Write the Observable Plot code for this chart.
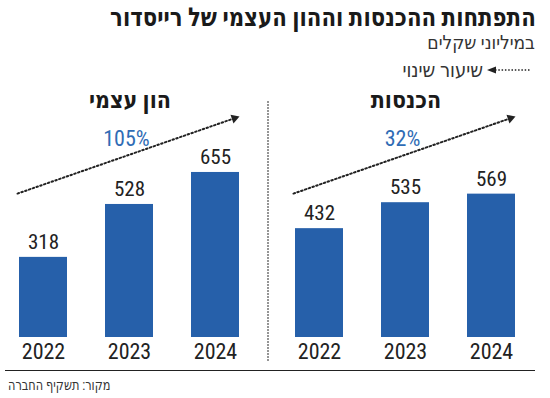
<!DOCTYPE html>
<html lang="he">
<head>
<meta charset="utf-8">
<script src="https://cdn.jsdelivr.net/npm/d3@7"></script>
<script src="https://cdn.jsdelivr.net/npm/@observablehq/plot@0.6"></script>
<style>
  html, body { margin: 0; padding: 0; background: #fff; }
  #wrap { position: relative; width: 550px; height: 398px; overflow: hidden;
    font-family: "Roboto Condensed", "Liberation Sans Narrow", "DejaVu Sans Condensed", "Arial Narrow", sans-serif; color: #222; }
  .abs { position: absolute; white-space: nowrap; }
  #title { right: 14px; top: 2px; font-size: 26px; font-weight: bold; direction: rtl; color: #1a1a1a; transform: scaleX(0.91); transform-origin: right center; }
  #subtitle { right: 15px; top: 31px; font-size: 19px; direction: rtl; color: #333; }
  #legend { right: 20px; top: 56px; height: 28px; font-size: 20px; direction: rtl; color: #333; display: flex; align-items: center; gap: 3px; }
  #chart { left: 0; top: 80px; }
  #rule { left: 5px; top: 370px; width: 530px; height: 0; border-top: 1.5px solid #222; }
  #source { left: 8px; top: 376px; font-size: 15px; direction: rtl; color: #333; transform: scaleX(0.84); transform-origin: left center; }
</style>
</head>
<body>
<div id="wrap">
  <div id="title" class="abs">התפתחות ההכנסות וההון העצמי של רייסדור</div>
  <div id="subtitle" class="abs">במיליוני שקלים</div>
  <div id="legend" class="abs">
    <svg width="44" height="10"><line x1="9" y1="5" x2="44" y2="5" stroke="#222" stroke-width="1.6" stroke-dasharray="1.5,1.8"/><polygon points="1,5 10,1.5 10,8.5" fill="#222"/></svg>
    <span>שיעור שינוי</span>
  </div>
  <div id="chart" class="abs"></div>
  <div id="rule" class="abs"></div>
  <div id="source" class="abs">מקור: תשקיף החברה</div>
</div>
<script>
const panels = ["הון עצמי", "הכנסות"];
const years = ["2022", "2023", "2024"];
const equity = [318, 528, 655];
const revenue = [432, 535, 569];
const changes = ["105%", "32%"];

const rows = [
  ...years.map((y, i) => ({panel: panels[0], year: y, value: equity[i]})),
  ...years.map((y, i) => ({panel: panels[1], year: y, value: revenue[i]}))
];
const notes = panels.map((p, i) => ({panel: p, change: changes[i]}));

const font = '"Roboto Condensed", "Liberation Sans Narrow", "DejaVu Sans Condensed", "Arial Narrow", sans-serif';
const blue = "#2660aa";

const chart = Plot.plot({
  width: 550,
  height: 285,
  marginLeft: 0,
  marginRight: 14.5,
  marginTop: 0,
  marginBottom: 28,
  style: {fontFamily: font, background: "transparent", color: "#222"},
  fx: {domain: panels, padding: 0.0633, axis: null, label: null},
  x: {domain: years, paddingInner: 0.44, paddingOuter: 0.217, label: null},
  y: {domain: [0, 1020], axis: null},
  marks: [
    Plot.barY(rows, {fx: "panel", x: "year", y: "value", fill: blue}),
    Plot.text(rows, {fx: "panel", x: "year", y: "value", text: d => String(d.value), dy: -15, fontSize: 21, fill: "#222"}),
    Plot.axisX({tickSize: 0, tickPadding: 6, fontSize: 22, fill: "#222"}),
    Plot.text(notes, {fx: "panel", frameAnchor: "top", dy: 11, text: "panel", fontSize: 23, fontWeight: "bold", fill: "#1a1a1a"}),
    Plot.text(notes, {fx: "panel", x: () => "2023", frameAnchor: "top", dy: 50, dx: -3, text: "change", fontSize: 22, fill: "#2f6cb5"}),
    Plot.arrow(notes, {fx: "panel", x1: () => "2022", x2: () => "2024", y1: () => 607, y2: () => 844,
      insetStart: -27.5, insetEnd: -20, headLength: 0, stroke: "#222", strokeWidth: 2, strokeDasharray: "1.6,2.4"}),
    Plot.dot(notes, {fx: "panel", x: () => "2024", y: () => 870, dx: 19, symbol: "triangle", r: 3.4, rotate: 71, fill: "#222", stroke: null}),
    Plot.ruleX([{panel: panels[1]}], {fx: "panel", x: () => "2022", dx: -51.5, y1: () => 936, y2: () => -99,
      stroke: "#444", strokeWidth: 1.5, strokeDasharray: "1.5,1.5"})
  ]
});
document.getElementById("chart").appendChild(chart);
</script>
</body>
</html>
